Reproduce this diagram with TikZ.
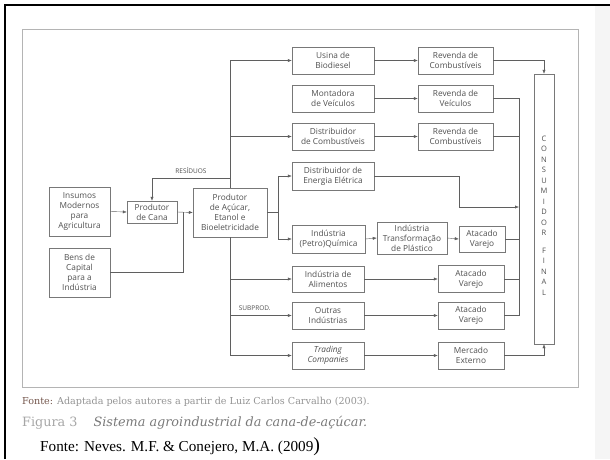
\documentclass[tikz,border=0pt]{standalone}
\usepackage{fontspec}
\setmainfont{Open Sans}
\newfontfamily\capfont{DejaVu Serif}
\newfontfamily\srcfont{Liberation Serif}
\usetikzlibrary{arrows.meta}
\definecolor{linha}{RGB}{95,95,95}
\definecolor{borda}{RGB}{120,120,120}
\definecolor{texto}{RGB}{80,80,80}
\definecolor{moldura}{RGB}{180,180,180}
\definecolor{fonte}{RGB}{115,85,75}
\newcommand{\FT}[1]{\textcolor{fonte}{#1}}

\begin{document}
\begin{tikzpicture}[x=1pt,y=-1pt,
  caixa/.style={draw=borda, fill=white, align=center, inner sep=0pt, text=texto,
    font=\fontsize{8.3}{10}\selectfont},
  seta/.style={draw=linha, -{Latex[length=4pt,width=3.2pt]}},
  liga/.style={draw=linha},
  rotulo/.style={text=texto, font=\fontsize{6.5}{7}\selectfont}]

  \useasboundingbox (0,0) rectangle (610,459);

  %% page
  \fill[gray!8] (595,5) rectangle (610,459);
  \draw[line width=2pt] (5,459) -- (5,5) -- (610,5);
  \draw[moldura, line width=0.8pt] (22,29) rectangle (578,387);

  %% left side
  \node[caixa, minimum width=61, minimum height=49] (insumos) at (79.5,211.5) {Insumos\\Modernos\\para\\Agricultura};
  \node[caixa, minimum width=61, minimum height=49] (bens) at (79.5,272.5) {Bens de\\Capital\\para a\\Indústria};
  \node[caixa, minimum width=50, minimum height=22] (cana) at (152,212) {Produtor\\de Cana};
  \node[caixa, minimum width=74, minimum height=49] (acucar) at (230,212.5) {Produtor\\de Açúcar,\\Etanol e\\Bioeletricidade};

  %% first column
  \node[caixa, minimum width=82, minimum height=27] (usina) at (333,60.5) {Usina de\\Biodiesel};
  \node[caixa, minimum width=82, minimum height=27] (montadora) at (333,98.5) {Montadora\\de Veículos};
  \node[caixa, minimum width=82, minimum height=27] (distcomb) at (333,136.5) {Distribuidor\\de Combustíveis};
  \node[caixa, minimum width=82, minimum height=28] (energia) at (333,176) {Distribuidor de\\Energia Elétrica};
  \node[caixa, minimum width=73, minimum height=28] (petro) at (328.5,239) {Indústria\\(Petro)Química};
  \node[caixa, minimum width=72, minimum height=26] (alimentos) at (328,279) {Indústria de\\Alimentos};
  \node[caixa, minimum width=72, minimum height=27] (outras) at (328,315.5) {Outras\\Indústrias};
  \node[caixa, minimum width=72, minimum height=27] (trading) at (328,355.5) {\itshape Trading\\\itshape Companies};

  %% second column
  \node[caixa, minimum width=75, minimum height=27] (revcombA) at (455.5,60.5) {Revenda de\\Combustíveis};
  \node[caixa, minimum width=75, minimum height=27] (revveic) at (455.5,98.5) {Revenda de\\Veículos};
  \node[caixa, minimum width=75, minimum height=27] (revcombB) at (455.5,136.5) {Revenda de\\Combustíveis};
  \node[caixa, minimum width=70, minimum height=32] (plastico) at (412,238) {Indústria\\Transformação\\de Plástico};
  \node[caixa, minimum width=46, minimum height=26] (atacadoA) at (482,239) {Atacado\\Varejo};
  \node[caixa, minimum width=66, minimum height=27] (atacadoB) at (471,279) {Atacado\\Varejo};
  \node[caixa, minimum width=66, minimum height=27] (atacadoC) at (471,315.5) {Atacado\\Varejo};
  \node[caixa, minimum width=66, minimum height=27] (mercado) at (471,355.5) {Mercado\\Externo};

  \node[caixa, minimum width=20, minimum height=270] (consumidor) at (544,209) {};
  \node[text=texto, align=center, inner sep=0pt, font=\fontsize{7.5}{10.5}\selectfont]
    (consumo) at ([yshift=-6.5pt]consumidor.center) {C\\O\\N\\S\\U\\M\\I\\D\\O\\R\\[7pt]F\\I\\N\\A\\L};

  \coordinate (j1) at (183,212);
  \coordinate (j2) at (278,212.5);
  \coordinate (res) at (230,178);
  \coordinate (bus) at (519,0);
  \coordinate (e1) at (459,207);

  %% inputs
  \draw[seta] (insumos.east) -- (cana.west);
  \draw[seta] (cana.east) -- (acucar.west);
  \draw[liga] (bens.east) -| (j1);
  \draw[seta] (res) -| node[rotulo, pos=0.25, above=1pt]{RESÍDUOS} (cana.north); %% back to cane

  %% trunk
  \draw[seta] (acucar.north) |- (usina.west);
  \draw[seta] (acucar.north) |- (distcomb.west);
  \draw[seta] (acucar.south) |- (alimentos.west);
  \draw[seta] (acucar.south) |- node[rotulo, pos=0.7, above=1pt]{SUBPROD.} (outras.west);
  \draw[seta] (acucar.south) |- (trading.west);
  \draw[liga] (acucar.east) -- (j2);
  \draw[seta] (j2) |- (energia.west);
  \draw[seta] (j2) |- (petro.west);

  %% chains
  \draw[seta] (usina.east) -- (revcombA.west);
  \draw[seta] (montadora.east) -- (revveic.west);
  \draw[seta] (distcomb.east) -- (revcombB.west);
  \draw[seta] (petro.east) -- (plastico.west);
  \draw[seta] (plastico.east) -- (atacadoA.west);
  \draw[seta] (alimentos.east) -- (atacadoB.west);
  \draw[seta] (outras.east) -- (atacadoC.west);
  \draw[seta] (trading.east) -- (mercado.west);

  %% to consumer
  \draw[seta] (revcombA.east) -| (consumidor.north);
  \draw[seta] (mercado.east) -| (consumidor.south);
  \draw[liga] (revveic.east) -| (bus |- atacadoC.east) -- (atacadoC.east);
  \draw[liga] (revcombB.east) -- (bus |- revcombB.east);
  \draw[liga] (atacadoA.east) -- (bus |- atacadoA.east);
  \draw[liga] (atacadoB.east) -- (bus |- atacadoB.east);
  \draw[seta] (energia.east) -| (e1) -- (e1 -| bus);

  %% captions
  \node[anchor=base west, inner sep=0pt, text=gray!85, font=\capfont\fontsize{9.6}{10}\selectfont]
    (fonteA) at (22,404) {\FT{Fonte:} Adaptada pelos autores a partir de Luiz Carlos Carvalho (2003).};
  \node[anchor=base west, inner sep=0pt, font=\capfont\fontsize{12.8}{14}\selectfont]
    (figura) at (22,426) {\textcolor{gray!70}{Figura 3}\hspace{16pt}\textcolor{gray!95!black}{\itshape Sistema agroindustrial da cana-de-açúcar.}};
  \node[anchor=base west, inner sep=0pt, font=\srcfont\fontsize{15.2}{16}\selectfont]
    (fonteB) at (40,451) {Fonte: Neves. M.F. \& Conejero, M.A. (2009{\fontsize{20}{20}\selectfont)}};
\end{tikzpicture}
\end{document}
